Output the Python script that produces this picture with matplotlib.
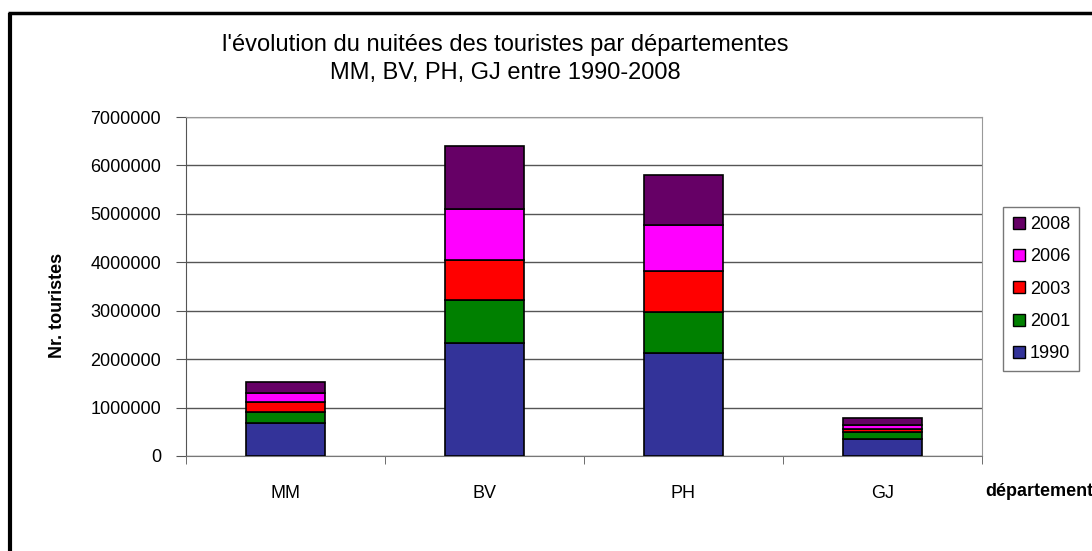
import matplotlib
matplotlib.use("Agg")
import matplotlib.pyplot as plt
import numpy as np
from matplotlib.lines import Line2D

plt.rcParams['font.family'] = ['Liberation Sans', 'DejaVu Sans']

categories = ["MM", "BV", "PH", "GJ"]
years = ["1990", "2001", "2003", "2006", "2008"]
v1990 = [690000, 2340000, 2130000, 350000]
v2001 = [210000, 880000, 840000, 140000]
v2003 = [210000, 830000, 840000, 70000]
v2006 = [200000, 1050000, 960000, 80000]
v2008 = [210000, 1300000, 1030000, 135000]
series = [v1990, v2001, v2003, v2006, v2008]
colors = ["#333399", "#008000", "#FF0000", "#FF00FF", "#660066"]

W, H = 1092, 551
fig = plt.figure(figsize=(W / 100, H / 100), dpi=100)
fig.patch.set_facecolor("white")

# outer frame (left and top black lines)
fig.add_artist(Line2D([9.5 / W, 9.5 / W], [0, 1 - 12.5 / H], transform=fig.transFigure,
                      color="black", lw=3, solid_capstyle="butt"))
fig.add_artist(Line2D([8 / W, 1], [1 - 13 / H, 1 - 13 / H], transform=fig.transFigure,
                      color="black", lw=2.5, solid_capstyle="butt"))

left, right, top, bottom = 186, 982, 117, 456
ax = fig.add_axes([left / W, 1 - bottom / H, (right - left) / W, (bottom - top) / H])

x = np.arange(len(categories))
base = np.zeros(len(categories))
for vals, col, yr in zip(series, colors, years):
    ax.bar(x, vals, width=0.4, bottom=base, color=col, edgecolor="black", linewidth=1.2,
           label=yr, zorder=3)
    base += np.array(vals)

fs = 13
ax.set_xlim(-0.5, len(categories) - 0.5)
ax.set_ylim(0, 7000000)
ax.set_yticks(np.arange(0, 7000001, 1000000))
ax.set_yticklabels([str(v) for v in range(0, 7000001, 1000000)], fontsize=fs)
ax.yaxis.grid(True, color="#555555", lw=1, zorder=0)
ax.set_axisbelow(True)

ax.set_xticks(x)
ax.set_xticklabels(categories, fontsize=fs)
ax.tick_params(axis="x", length=0, pad=21)
ax.set_xticks(np.arange(-0.5, len(categories), 1), minor=True)
ax.tick_params(axis="x", which="minor", length=6, color="#555555", direction="out")
ax.tick_params(axis="y", length=7, color="#555555", direction="out", pad=11)

for s in ["top", "right"]:
    ax.spines[s].set_color("#999999")
ax.spines["left"].set_color("#555555")
ax.spines["bottom"].set_color("#777777")

fig.text(57 / W, 1 - 305 / H, "Nr. touristes", rotation=90, ha="center", va="center",
         fontsize=fs, fontweight="bold")
fig.text(985 / W, 1 - 492 / H, "département", ha="left", va="center",
         fontsize=fs, fontweight="bold")
fig.text(505 / W, 1 - 59 / H,
         "l'évolution du nuitées des touristes par départementes\nMM, BV, PH, GJ entre 1990-2008",
         ha="center", va="center", fontsize=17, linespacing=1.38)

handles = [Line2D([], [], marker="s", linestyle="none", markersize=8, markerfacecolor=c,
                  markeredgecolor="black", markeredgewidth=1) for c in colors]
leg = fig.legend(handles[::-1], years[::-1], loc="upper left",
                 bbox_to_anchor=(1003 / W, 1 - 207 / H), frameon=True, fancybox=False,
                 edgecolor="#555555", fontsize=fs, handlelength=0.8, handletextpad=0.2,
                 labelspacing=0.85, borderpad=0.5, borderaxespad=0)
leg.get_frame().set_linewidth(1)

fig.savefig("out.png", dpi=100, facecolor="white")
